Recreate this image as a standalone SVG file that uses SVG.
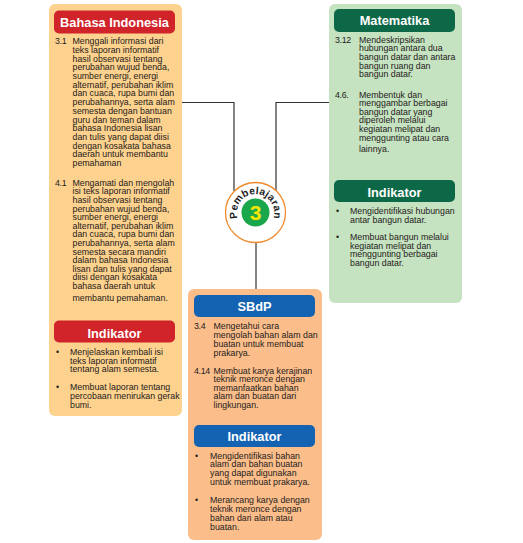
<svg xmlns="http://www.w3.org/2000/svg" width="523" height="543" viewBox="0 0 523 543">
<style>
.t{font-family:"Liberation Sans",Arial,sans-serif;font-size:8.8px;fill:#252120}
.n{letter-spacing:-0.3px}
.h{font-family:"Liberation Sans",Arial,sans-serif;font-size:12.8px;font-weight:bold;fill:#fff;text-anchor:middle}
.pl{fill:#fdd28e}
.pr{fill:#c5e3c1}
.pb{fill:#fbbe8b}
.red{fill:#d1232a}
.grn{fill:#0d6847}
.blu{fill:#1463b2}
.ln{stroke:#333;stroke-width:1.2;fill:none}
</style>
<rect width="523" height="543" fill="#fff"/>
<g id="connectors">
<path class="ln" d="M182,102.5H234V191"/>
<path class="ln" d="M329,102.5H276V191"/>
<path class="ln" d="M256,242V289"/>
</g>
<g id="bahasa-indonesia">
<rect class="pl" x="49" y="4" width="133" height="412" rx="6"/>
<rect class="red" x="54" y="10.5" width="121" height="23" rx="5"/>
<text class="h" x="114.5" y="27">Bahasa Indonesia</text>
<text class="t n" x="55" y="44.2">3.1</text>
<text class="t" y="44.2"><tspan x="72.5">Menggali informasi dari</tspan><tspan x="72.5" dy="8.7">teks laporan informatif</tspan><tspan x="72.5" dy="8.7">hasil observasi tentang</tspan><tspan x="72.5" dy="8.7">perubahan wujud benda,</tspan><tspan x="72.5" dy="8.7">sumber energi, energi</tspan><tspan x="72.5" dy="8.7">alternatif, perubahan iklim</tspan><tspan x="72.5" dy="8.7">dan cuaca, rupa bumi dan</tspan><tspan x="72.5" dy="8.7">perubahannya, serta alam</tspan><tspan x="72.5" dy="8.7">semesta dengan bantuan</tspan><tspan x="72.5" dy="8.7">guru dan teman dalam</tspan><tspan x="72.5" dy="8.7">bahasa Indonesia lisan</tspan><tspan x="72.5" dy="8.7">dan tulis yang dapat diisi</tspan><tspan x="72.5" dy="8.7">dengan kosakata bahasa</tspan><tspan x="72.5" dy="8.7">daerah untuk membantu</tspan><tspan x="72.5" dy="8.7">pemahaman</tspan></text>
<text class="t n" x="55" y="185.8">4.1</text>
<text class="t" y="185.8"><tspan x="72.5">Mengamati dan mengolah</tspan><tspan x="72.5" dy="8.6">isi teks laporan informatif</tspan><tspan x="72.5" dy="8.6">hasil observasi tentang</tspan><tspan x="72.5" dy="8.6">perubahan wujud benda,</tspan><tspan x="72.5" dy="8.6">sumber energi, energi</tspan><tspan x="72.5" dy="8.6">alternatif, perubahan iklim</tspan><tspan x="72.5" dy="8.6">dan cuaca, rupa bumi dan</tspan><tspan x="72.5" dy="8.6">perubahannya, serta alam</tspan><tspan x="72.5" dy="8.6">semesta secara mandiri</tspan><tspan x="72.5" dy="8.6">dalam bahasa Indonesia</tspan><tspan x="72.5" dy="8.6">lisan dan tulis yang dapat</tspan><tspan x="72.5" dy="8.6">diisi dengan kosakata</tspan><tspan x="72.5" dy="8.6">bahasa daerah untuk</tspan><tspan x="72.5" dy="12">membantu pemahaman.</tspan></text>
<rect class="red" x="54" y="320.5" width="121" height="22" rx="5"/>
<text class="h" x="114.5" y="337.5">Indikator</text>
<text class="t" x="56" y="355.2">•</text>
<text class="t" y="355.2"><tspan x="70">Menjelaskan kembali isi</tspan><tspan x="70" dy="8.6">teks laporan informatif</tspan><tspan x="70" dy="8.6">tentang alam semesta.</tspan></text>
<text class="t" x="56" y="390.2">•</text>
<text class="t" y="390.2"><tspan x="70">Membuat laporan tentang</tspan><tspan x="70" dy="8.6">percobaan menirukan gerak</tspan><tspan x="70" dy="8.8">bumi.</tspan></text>
</g>
<g id="matematika">
<rect class="pr" x="329" y="4" width="133" height="299" rx="6"/>
<rect class="grn" x="334" y="9" width="121" height="23" rx="5"/>
<text class="h" x="394.5" y="25.3">Matematika</text>
<text class="t n" x="335" y="42.5">3.12</text>
<text class="t" y="42.5"><tspan x="359">Mendeskripsikan</tspan><tspan x="359" dy="8.7">hubungan antara dua</tspan><tspan x="359" dy="8.7">bangun datar dan antara</tspan><tspan x="359" dy="8.7">bangun ruang dan</tspan><tspan x="359" dy="8.7">bangun datar.</tspan></text>
<text class="t n" x="335" y="97.5">4.6.</text>
<text class="t" y="97.5"><tspan x="359">Membentuk dan</tspan><tspan x="359" dy="8.6">menggambar berbagai</tspan><tspan x="359" dy="8.6">bangun datar yang</tspan><tspan x="359" dy="8.6">diperoleh melalui</tspan><tspan x="359" dy="8.6">kegiatan melipat dan</tspan><tspan x="359" dy="8.6">menggunting atau cara</tspan><tspan x="359" dy="11.3">lainnya.</tspan></text>
<rect class="grn" x="334" y="180" width="121" height="22" rx="5"/>
<text class="h" x="394.5" y="196.8">Indikator</text>
<text class="t" x="336" y="214.2">•</text>
<text class="t" y="214.2"><tspan x="350">Mengidentifikasi hubungan</tspan><tspan x="350" dy="8.6">antar bangun datar.</tspan></text>
<text class="t" x="336" y="239.8">•</text>
<text class="t" y="239.8"><tspan x="350">Membuat bangun melalui</tspan><tspan x="350" dy="8.7">kegiatan melipat dan</tspan><tspan x="350" dy="8.7">menggunting berbagai</tspan><tspan x="350" dy="8.6">bangun datar.</tspan></text>
</g>
<g id="pembelajaran">
<circle cx="255.5" cy="212.5" r="30" fill="#fff" stroke="#f08a2c" stroke-width="1.3"/>
<circle cx="255.5" cy="212.5" r="14" fill="#1aa64b"/>
<text x="255.5" y="220" text-anchor="middle" font-family="Liberation Sans, Arial, sans-serif" font-size="21" font-weight="bold" fill="#f5e800">3</text>
<path id="arc" d="M238.8,221.2 A18.7,18.7 0 1 1 272.2,221.2" fill="none"/>
<text font-family="Liberation Sans, Arial, sans-serif" font-size="10.3" font-weight="bold" fill="#222" letter-spacing="0.2"><textPath href="#arc" startOffset="50%" text-anchor="middle">Pembelajaran</textPath></text>
</g>
<g id="sbdp">
<rect class="pb" x="188" y="289" width="134" height="251" rx="6"/>
<rect class="blu" x="194" y="295" width="121" height="22" rx="5"/>
<text class="h" x="254.5" y="311">SBdP</text>
<text class="t n" x="194" y="329.2">3.4</text>
<text class="t" y="329.2"><tspan x="213.5">Mengetahui cara</tspan><tspan x="213.5" dy="8.8">mengolah bahan alam dan</tspan><tspan x="213.5" dy="8.7">buatan untuk membuat</tspan><tspan x="213.5" dy="8.8">prakarya.</tspan></text>
<text class="t n" x="194" y="373.5">4.14</text>
<text class="t" y="373.5"><tspan x="213.5">Membuat karya kerajinan</tspan><tspan x="213.5" dy="8.5">teknik meronce dengan</tspan><tspan x="213.5" dy="8.7">memanfaatkan bahan</tspan><tspan x="213.5" dy="8.6">alam dan buatan dari</tspan><tspan x="213.5" dy="8.6">lingkungan.</tspan></text>
<rect class="blu" x="194" y="425" width="121" height="22" rx="5"/>
<text class="h" x="254.5" y="441">Indikator</text>
<text class="t" x="195" y="458.8">•</text>
<text class="t" y="458.8"><tspan x="210">Mengidentifikasi bahan</tspan><tspan x="210" dy="8.6">alam dan bahan buatan</tspan><tspan x="210" dy="8.6">yang dapat digunakan</tspan><tspan x="210" dy="8.8">untuk membuat prakarya.</tspan></text>
<text class="t" x="195" y="503.2">•</text>
<text class="t" y="503.2"><tspan x="210">Merancang karya dengan</tspan><tspan x="210" dy="8.6">teknik meronce  dengan</tspan><tspan x="210" dy="9">bahan dari alam atau</tspan><tspan x="210" dy="9">buatan.</tspan></text>
</g>
</svg>
